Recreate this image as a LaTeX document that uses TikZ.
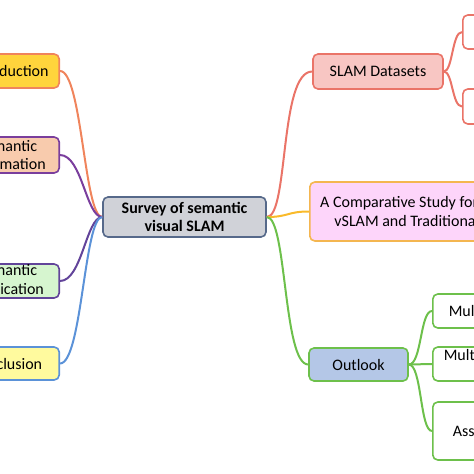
\documentclass[tikz,border=0pt]{standalone}
\usepackage{fontspec}
\setmainfont{Carlito}
\usepackage{xcolor}
\usepackage{tikz}

\definecolor{introfill}{HTML}{FFD43C}
\definecolor{introline}{HTML}{F0845C}
\definecolor{infofill}{HTML}{F8CBAD}
\definecolor{infoline}{HTML}{7A3E9D}
\definecolor{appfill}{HTML}{D6F5CF}
\definecolor{appline}{HTML}{62449A}
\definecolor{conclfill}{HTML}{FFFA9E}
\definecolor{conclline}{HTML}{5B92D8}
\definecolor{surveyfill}{HTML}{D0D2D8}
\definecolor{surveyline}{HTML}{56698A}
\definecolor{datafill}{HTML}{F8C6C3}
\definecolor{dataline}{HTML}{EA7468}
\definecolor{compfill}{HTML}{FDD5FA}
\definecolor{compline}{HTML}{F4B650}
\definecolor{complink}{HTML}{F9BA2A}
\definecolor{outfill}{HTML}{B4C7E7}
\definecolor{outline}{HTML}{6DC04B}

\begin{document}
\begin{tikzpicture}[x=1pt, y=-1pt,
    box/.style={draw, rectangle, rounded corners=5pt, line width=1.6pt, align=center, inner xsep=0pt, inner ysep=0pt, font=\fontsize{16}{18.5}\selectfont},
    leaf/.style={draw, rectangle, rounded corners=5pt, line width=1.6pt, fill=white, anchor=west, align=left, text width=130pt, inner ysep=0pt, font=\fontsize{16}{18.5}\selectfont},
    link/.style={line width=2pt}]
    \useasboundingbox (0,0) rectangle (474,474);
    \clip (0,0) rectangle (474,474);

    \node[box, fill=surveyfill, draw=surveyline, minimum width=163, minimum height=40, font=\fontsize{16}{17.5}\selectfont\bfseries] (survey) at (184.5,217) {Survey of semantic\\visual SLAM};

    \node[box, fill=introfill, draw=introline, minimum width=102, minimum height=34, anchor=east] (intro) at (60,71) {Introduction};
    \node[box, fill=infofill, draw=infoline, minimum width=104, minimum height=36, anchor=east] (info) at (60,155) {Semantic\\Information};
    \node[box, fill=appfill, draw=appline, minimum width=104, minimum height=34, anchor=east] (app) at (60,281) {Semantic\\Application};
    \node[box, fill=conclfill, draw=conclline, minimum width=105, minimum height=33, anchor=east] (concl) at (60,363.5) {Conclusion};

    \node[box, fill=datafill, draw=dataline, minimum width=130, minimum height=35] (data) at (378,71.5) {SLAM Datasets};
    \node[box, fill=white, draw=dataline, minimum width=80, minimum height=34, anchor=west] (dataA) at (462,32) {};
    \node[box, fill=white, draw=dataline, minimum width=80, minimum height=35, anchor=west] (dataB) at (462,106.5) {};

    \node[box, fill=compfill, draw=compline, minimum width=242, minimum height=59, anchor=west] (comp) at (309,211.5) {A Comparative Study for Semantic\\vSLAM and Traditional vSLAM};

    \node[box, fill=outfill, draw=outline, minimum width=99, minimum height=33] (outlook) at (358.5,364.5) {Outlook};
    \node[leaf, draw=outline, minimum height=34, inner xsep=16pt] (multiA) at (432,311) {Multi-sensor fusion};
    \node[leaf, draw=outline, minimum height=34, inner xsep=11pt] (multiB) at (432,364) {Multi-task learning\\\mbox{}};
    \node[leaf, draw=outline, minimum height=58, inner xsep=20pt] (assist) at (432,431) {Assistance};

    \draw[link, introline] (survey.west) .. controls +(-18,0) and +(22,0) .. (intro.east);
    \draw[link, infoline] (survey.west) .. controls +(-16,0) and +(22,0) .. (info.east);
    \draw[link, appline] (survey.west) .. controls +(-16,0) and +(22,0) .. (app.east);
    \draw[link, conclline] (survey.west) .. controls +(-18,0) and +(22,0) .. (concl.east);

    \draw[link, dataline] (survey.east) .. controls +(22,0) and +(-33,0) .. (data.west);
    \draw[link, complink] (survey.east) .. controls +(22,0) and +(-22,0) .. (comp.west);
    \draw[link, outline] (survey.east) .. controls +(20,0) and +(-25,0) .. (outlook.west);

    \draw[link, dataline] (data.east) .. controls +(9,0) and +(-10,0) .. (dataA.west);
    \draw[link, dataline] (data.east) .. controls +(9,0) and +(-10,0) .. (dataB.west);

    \draw[link, outline] (outlook.east) .. controls +(13,0) and +(-12,0) .. (multiA.west);
    \draw[link, outline] (outlook.east) -- (multiB.west);
    \draw[link, outline] (outlook.east) .. controls +(13,0) and +(-12,0) .. (assist.west);
\end{tikzpicture}
\end{document}
